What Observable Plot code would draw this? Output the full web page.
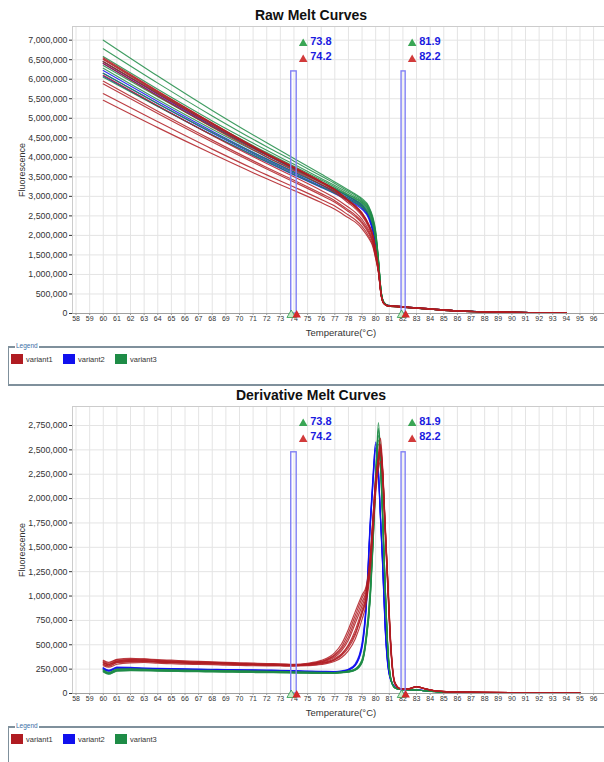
<!DOCTYPE html>
<html><head><meta charset="utf-8">
<script src="https://cdn.jsdelivr.net/npm/d3@7"></script>
<script src="https://cdn.jsdelivr.net/npm/@observablehq/plot@0.6"></script>
<style>
body{margin:0;background:#fff;font-family:"Liberation Sans",Arial,sans-serif;}
#root{position:relative;width:604px;height:762px;overflow:hidden;background:#fff;}
.abs{position:absolute;white-space:nowrap;}
.title{font-weight:bold;font-size:14px;color:#111;transform:translate(-50%,-50%);}
.xlab{font-size:9.5px;color:#333;transform:translate(-50%,-50%);}
.ylab{font-size:9px;color:#333;transform:translate(-50%,-50%) rotate(-90deg);}
.legend{border-top:2px solid #7f909c;border-left:1px solid #7f909c;border-bottom:2px solid #7f909c;width:640px;}
.legend .lt{position:absolute;left:6px;top:-6px;font-size:6.5px;color:#3a6ea5;background:#fff;padding:0 1px;}
.item{position:absolute;display:flex;align-items:center;font-size:7.5px;color:#333;}
.sw{width:12px;height:10px;margin-right:3px;}
</style></head><body><div id="root"></div><script>
// ---- data ----
const variants = ["variant1", "variant2", "variant3"];
const variantColors = ["#b01c22", "#1010ee", "#1e8c46"];
const tempTicks = [58,59,60,61,62,63,64,65,66,67,68,69,70,71,72,73,74,75,76,77,78,79,80,81,82,83,84,85,86,87,88,89,90,91,92,93,94,95,96];
const rawYTicks = [0,500000,1000000,1500000,2000000,2500000,3000000,3500000,4000000,4500000,5000000,5500000,6000000,6500000,7000000];
const derivYTicks = [0,250000,500000,750000,1000000,1250000,1500000,1750000,2000000,2250000,2500000,2750000];
const markerLo = [73.8, 81.9];
const markerHi = [74.2, 82.2];

// Raw melt curves (fluorescence, millions)
const rawTemps = [60,64,68,72,74,76,77,78,78.5,79,79.5,79.8,80,80.2,80.4,80.6,80.9,81.5,82.5,84,86,90,94];
const rawVariant1 = [
  [6.55,5.70,4.88,4.10,3.75,3.38,3.18,2.90,2.76,2.58,2.28,2.00,1.62,1.14,0.49,0.26,0.20,0.19,0.16,0.12,0.07,0.03,0.01],
  [6.50,5.66,4.85,4.08,3.73,3.36,3.16,2.88,2.74,2.55,2.25,1.97,1.60,1.13,0.49,0.26,0.20,0.19,0.16,0.12,0.07,0.03,0.01],
  [6.45,5.62,4.82,4.06,3.71,3.35,3.15,2.87,2.73,2.54,2.24,1.96,1.59,1.12,0.48,0.26,0.20,0.19,0.16,0.12,0.07,0.03,0.01],
  [6.40,5.57,4.77,4.01,3.66,3.30,3.10,2.83,2.69,2.50,2.20,1.92,1.56,1.11,0.48,0.26,0.20,0.18,0.16,0.12,0.07,0.03,0.01],
  [6.10,5.32,4.56,3.84,3.50,3.15,2.96,2.72,2.59,2.41,2.13,1.86,1.52,1.10,0.48,0.25,0.19,0.18,0.15,0.11,0.07,0.03,0.01],
  [5.95,5.18,4.44,3.74,3.41,3.07,2.89,2.65,2.52,2.35,2.08,1.82,1.49,1.09,0.47,0.25,0.19,0.18,0.15,0.11,0.06,0.03,0.01],
  [5.88,5.12,4.39,3.70,3.37,3.03,2.85,2.61,2.48,2.31,2.04,1.79,1.47,1.08,0.47,0.25,0.19,0.18,0.15,0.11,0.06,0.03,0.01],
  [5.63,4.91,4.21,3.55,3.24,2.92,2.75,2.52,2.40,2.23,1.97,1.74,1.43,1.06,0.46,0.25,0.19,0.17,0.15,0.11,0.06,0.03,0.01],
  [5.46,4.76,4.09,3.45,3.15,2.84,2.67,2.45,2.34,2.17,1.92,1.70,1.40,1.05,0.46,0.25,0.19,0.17,0.15,0.11,0.06,0.03,0.01],
  [6.52,5.68,4.87,4.09,3.74,3.37,3.17,2.89,2.75,2.57,2.27,1.99,1.61,1.13,0.49,0.26,0.20,0.19,0.16,0.12,0.07,0.03,0.01]
];
const rawVariant2 = [
  [6.45,5.62,4.82,4.07,3.72,3.37,3.19,3.00,2.90,2.78,2.52,2.18,1.80,1.25,0.52,0.28,0.21,0.19,0.16,0.12,0.07,0.03,0.01],
  [6.22,5.43,4.67,3.96,3.63,3.30,3.13,2.95,2.85,2.73,2.48,2.14,1.76,1.23,0.51,0.27,0.20,0.18,0.15,0.11,0.07,0.03,0.01],
  [6.15,5.37,4.62,3.92,3.59,3.26,3.10,2.92,2.82,2.70,2.45,2.11,1.73,1.22,0.51,0.27,0.20,0.18,0.15,0.11,0.07,0.03,0.01],
  [6.08,5.31,4.57,3.88,3.55,3.23,3.07,2.89,2.79,2.67,2.42,2.08,1.71,1.21,0.50,0.27,0.20,0.18,0.15,0.11,0.06,0.03,0.01],
  [6.40,5.58,4.79,4.05,3.70,3.36,3.18,2.99,2.89,2.76,2.50,2.16,1.78,1.24,0.52,0.28,0.21,0.19,0.16,0.12,0.07,0.03,0.01]
];
const rawVariant3 = [
  [7.00,6.08,5.20,4.37,3.97,3.57,3.37,3.16,3.06,2.94,2.74,2.46,2.12,1.42,0.58,0.29,0.21,0.19,0.16,0.12,0.07,0.03,0.01],
  [6.78,5.90,5.06,4.27,3.90,3.52,3.33,3.13,3.03,2.91,2.71,2.43,2.08,1.40,0.57,0.29,0.21,0.19,0.16,0.12,0.07,0.03,0.01],
  [6.58,5.74,4.93,4.18,3.82,3.46,3.28,3.09,2.99,2.88,2.68,2.40,2.04,1.38,0.56,0.28,0.20,0.18,0.15,0.11,0.07,0.03,0.01],
  [6.45,5.64,4.86,4.12,3.77,3.42,3.24,3.05,2.96,2.85,2.65,2.37,2.01,1.36,0.56,0.28,0.20,0.18,0.15,0.11,0.07,0.03,0.01],
  [6.35,5.55,4.78,4.06,3.72,3.38,3.21,3.03,2.94,2.83,2.63,2.35,1.98,1.35,0.55,0.28,0.20,0.18,0.15,0.11,0.06,0.03,0.01],
  [6.28,5.48,4.72,4.01,3.68,3.35,3.18,3.00,2.91,2.80,2.60,2.32,1.95,1.34,0.55,0.27,0.20,0.18,0.15,0.11,0.06,0.03,0.01],
  [6.15,5.38,4.64,3.95,3.62,3.30,3.13,2.96,2.87,2.76,2.56,2.28,1.92,1.32,0.54,0.27,0.19,0.17,0.15,0.11,0.06,0.03,0.01],
  [6.05,5.30,4.57,3.89,3.56,3.24,3.08,2.91,2.83,2.72,2.52,2.24,1.88,1.30,0.54,0.27,0.19,0.17,0.15,0.11,0.06,0.03,0.01]
];

// Derivative melt curves (-dF/dT, thousands)
const derivTemps = [60,60.4,61,62,63,64,65,66,67,68,69,70,71,72,73,74,75,76,77,77.5,78,78.5,79,79.3,79.6,79.8,80,80.2,80.35,80.5,80.7,80.9,81.1,81.4,81.8,82.4,83,83.6,84.5,86,90,95];
const derivVariant1 = [
  [320,300,335,345,340,330,325,320,318,312,310,305,300,298,295,292,300,315,360,410,500,650,860,1000,1350,1750,2150,2450,2620,2350,1750,1150,550,120,50,48,72,50,25,15,10,5],
  [330,310,345,350,352,340,335,328,325,320,315,310,305,302,300,296,305,330,400,480,620,800,980,1080,1400,1800,2200,2400,2520,2300,1700,1100,500,110,50,48,70,50,25,15,10,5],
  [300,285,320,330,335,325,318,312,310,305,302,298,295,290,288,285,290,305,345,390,470,600,820,960,1300,1700,2100,2350,2450,2250,1650,1050,480,100,48,46,68,48,24,14,10,5],
  [310,295,330,340,345,338,330,325,320,318,312,306,303,300,297,294,302,325,390,460,580,760,940,1050,1380,1780,2180,2420,2560,2330,1720,1120,520,115,50,47,70,50,25,15,10,5],
  [285,270,300,315,318,310,305,300,298,295,290,288,285,283,282,280,285,298,330,370,440,560,760,920,1250,1650,2050,2300,2380,2200,1620,1050,480,100,48,46,66,48,24,14,9,5],
  [340,320,350,360,355,348,342,336,330,326,320,316,312,308,305,300,310,340,420,510,660,840,1010,1100,1420,1820,2200,2380,2480,2280,1680,1080,500,110,50,48,72,50,25,15,10,5],
  [295,280,315,325,328,320,315,310,306,302,300,296,292,290,287,285,292,310,350,400,490,620,830,980,1320,1720,2120,2380,2540,2310,1700,1100,510,110,49,47,69,49,24,14,10,5],
  [315,300,325,335,332,326,320,316,312,310,305,302,298,295,292,290,296,320,375,440,550,720,900,1030,1360,1760,2160,2400,2500,2300,1700,1120,520,112,50,48,71,50,25,15,10,5]
];
const derivVariant2 = [
  [260,235,265,262,258,255,252,250,248,246,244,242,240,238,236,232,228,225,222,228,245,295,500,900,1750,2200,2580,2300,1850,1400,700,300,150,70,45,40,38,30,20,12,8,4],
  [250,228,258,255,252,250,248,245,243,240,238,236,234,232,230,228,224,220,218,224,240,285,470,860,1700,2150,2520,2280,1820,1380,680,290,145,68,44,40,38,30,20,12,8,4],
  [265,240,270,268,262,258,255,254,250,248,246,244,242,240,238,235,230,228,225,232,250,305,520,930,1780,2230,2560,2260,1800,1350,660,280,140,66,44,40,37,29,19,11,8,4],
  [255,232,262,260,256,252,250,248,246,244,241,240,238,236,234,230,226,223,220,226,242,290,480,880,1720,2170,2500,2240,1790,1340,650,270,135,64,43,39,37,29,19,11,7,4]
];
const derivVariant3 = [
  [235,205,240,245,242,238,236,235,232,230,228,226,224,222,220,216,214,213,212,218,225,245,330,560,1000,1550,2200,2780,2450,1900,1100,450,160,60,42,38,36,28,18,11,7,4],
  [225,200,232,238,236,232,230,228,226,224,222,220,218,216,215,212,210,208,208,214,222,240,320,540,980,1520,2150,2650,2380,1850,1080,440,155,58,41,38,35,28,18,11,7,4],
  [240,212,248,250,246,242,240,238,236,234,232,230,228,226,224,220,218,216,214,220,230,250,345,580,1050,1600,2250,2700,2420,1880,1100,460,165,62,43,39,36,28,18,11,7,4],
  [230,208,236,240,238,235,232,230,229,227,225,223,221,219,218,214,212,210,210,216,224,243,330,550,990,1540,2180,2600,2350,1820,1060,430,150,58,41,37,35,27,17,10,7,4],
  [245,215,250,254,250,246,243,241,239,237,235,233,231,229,227,223,220,218,216,222,232,255,350,600,1080,1640,2280,2560,2330,1800,1040,420,150,58,41,37,35,27,17,10,7,4],
  [220,198,228,234,232,229,227,225,223,221,219,217,215,213,212,210,208,206,206,212,220,238,315,530,960,1500,2120,2720,2440,1900,1100,450,160,60,42,38,36,28,18,11,7,4]
];

// ---- build ----
function toRows(temps, groups, unit) {
  const rows = [];
  // draw order: variant2, variant3, variant1 (red on top)
  for (const vi of [1, 2, 0]) {
    groups[vi].forEach((vals, ci) => vals.forEach((v, k) => rows.push({variant: variants[vi], curve: vi + "-" + ci, t: temps[k], f: v * unit})));
  }
  return rows;
}
const markers = markerLo.map((lo, i) => ({lo, hi: markerHi[i], a: String(lo), b: String(markerHi[i])}));
const root = document.getElementById("root");
const FONT = '"Liberation Sans", Arial, sans-serif';

function meltChart(rows, yMax, yTicks, rectTop) {
  const xDom = [57.74, 96.8];
  const chart = Plot.plot({
    width: 604, height: 345,
    marginTop: 26, marginBottom: 32, marginLeft: 72, marginRight: 0,
    style: {fontFamily: FONT, background: "transparent", color: "#333", overflow: "visible"},
    x: {domain: xDom},
    y: {domain: [0, yMax]},
    color: {domain: variants, range: variantColors},
    marks: [
      Plot.gridX(tempTicks, {stroke: "#e4e4e4", strokeOpacity: 1}),
      Plot.gridY(yTicks, {stroke: "#e4e4e4", strokeOpacity: 1}),
      Plot.ruleY([yMax], {stroke: "#cccccc"}),
      Plot.ruleX([xDom[0]], {stroke: "#cccccc"}),
      Plot.line(rows, {x: "t", y: "f", z: "curve", stroke: "variant", curve: "monotone-x", strokeWidth: 1.15, strokeOpacity: 0.85}),
      Plot.rect(markers, {x1: "lo", x2: "hi", y1: 0, y2: rectTop, fill: "none", stroke: "#8080f4", strokeWidth: 1.4}),
      Plot.ruleY([0], {stroke: "#a0a0a0"}),
      Plot.axisX({ticks: tempTicks, tickSize: 2, tickPadding: 1, fontSize: 7, label: null, tickFormat: d => String(d), stroke: "#999"}),
      Plot.axisY({ticks: yTicks, tickSize: 3, tickPadding: 2, fontSize: 8.8, label: null, tickFormat: d3.format(",")}),
      Plot.dot(markers, {x: "hi", frameAnchor: "top", dx: 6.5, dy: 17, symbol: "triangle", r: 3.2, fill: "#3aa655"}),
      Plot.dot(markers, {x: "hi", frameAnchor: "top", dx: 6.5, dy: 33, symbol: "triangle", r: 3.2, fill: "#d23a3a"}),
      Plot.text(markers, {x: "hi", text: "a", frameAnchor: "top", dx: 13.5, dy: 11, textAnchor: "start", fill: "#1a1ae0", fontWeight: "bold", fontSize: 11}),
      Plot.text(markers, {x: "hi", text: "b", frameAnchor: "top", dx: 13.5, dy: 26, textAnchor: "start", fill: "#1a1ae0", fontWeight: "bold", fontSize: 11}),
      Plot.dot(markers, {x: "lo", y: 0, dy: 1.5, symbol: "triangle", r: 3.2, fill: "#c6e8c6", stroke: "#2a9a4a", strokeWidth: 0.8}),
      Plot.dot(markers, {x: "hi", y: 0, dy: 1.5, symbol: "triangle", r: 3.2, fill: "#d42a2a"})
    ]
  });
  return chart;
}

function addAbs(html, cls, x, y) {
  const d = document.createElement("div");
  d.className = "abs " + cls;
  d.style.left = x + "px"; d.style.top = y + "px";
  d.innerHTML = html;
  root.appendChild(d);
  return d;
}
function addLegend(top, height) {
  const box = addAbs('<span class="lt">Legend</span>', "legend", 8, top);
  box.style.height = height + "px";
  const xs = [2, 54, 106];
  variants.forEach((v, i) => {
    const it = document.createElement("div");
    it.className = "item";
    it.style.left = xs[i] + "px"; it.style.top = "6px";
    it.innerHTML = `<div class="sw" style="background:${variantColors[i]}"></div><span>${v}</span>`;
    box.appendChild(it);
  });
}

const c1 = meltChart(toRows(rawTemps, [rawVariant1, rawVariant2, rawVariant3], 1e6), 7.35e6, rawYTicks, 6.2e6);
c1.style.position = "absolute"; c1.style.left = "0px"; c1.style.top = "0px";
root.appendChild(c1);
const c2 = meltChart(toRows(derivTemps, [derivVariant1, derivVariant2, derivVariant3], 1e3), 2.945e6, derivYTicks, 2.475e6);
c2.style.position = "absolute"; c2.style.left = "0px"; c2.style.top = "380px";
root.appendChild(c2);

addAbs("Raw Melt Curves", "title", 311, 15);
addAbs("Derivative Melt Curves", "title", 311, 395);
addAbs("Temperature(°C)", "xlab", 341, 332);
addAbs("Temperature(°C)", "xlab", 341, 712);
addAbs("Fluorescence", "ylab", 22, 170);
addAbs("Fluorescence", "ylab", 22, 550);
addLegend(346, 36);
addLegend(726, 60);
</script></body></html>
